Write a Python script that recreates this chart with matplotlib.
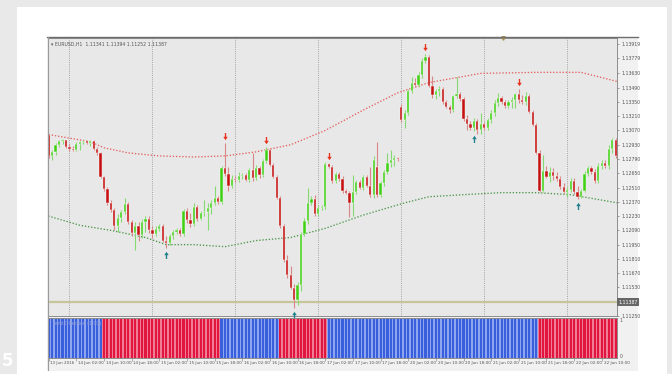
import numpy as np
import matplotlib
matplotlib.use("Agg")
import matplotlib.pyplot as plt
import matplotlib.transforms as mtransforms
from matplotlib.patches import Rectangle
from matplotlib.lines import Line2D
from matplotlib.path import Path

# EURUSD H1, one entry per bar (13 Jun 2016 18:00 -> 22 Jun 2016 12:00)
opens = [
    1.1303, 1.1282, 1.1286, 1.1293, 1.1297, 1.1298, 1.1291, 1.1289, 1.1288, 1.1294,
    1.1296, 1.1297, 1.1295, 1.1297, 1.1289, 1.1285, 1.1261, 1.1250, 1.1236, 1.1229,
    1.1213, 1.1221, 1.1227, 1.1235, 1.1217, 1.1206, 1.1213, 1.1204, 1.1217, 1.1220,
    1.1209, 1.1205, 1.1210, 1.1213, 1.1199, 1.1197, 1.1203, 1.1207, 1.1209, 1.1205,
    1.1228, 1.1219, 1.1215, 1.1232, 1.1220, 1.1226, 1.1227, 1.1231, 1.1236, 1.1241,
    1.1237, 1.1270, 1.1264, 1.1253, 1.1259, 1.1258, 1.1262, 1.1263, 1.1258, 1.1268,
    1.1260, 1.1270, 1.1263, 1.1277, 1.1288, 1.1273, 1.1261, 1.1241, 1.1213, 1.1180,
    1.1165, 1.1152, 1.1141, 1.1155, 1.1205, 1.1218, 1.1236, 1.1240, 1.1225, 1.1231,
    1.1232, 1.1274, 1.1271, 1.1257, 1.1264, 1.1259, 1.1248, 1.1246, 1.1236, 1.1247,
    1.1256, 1.1251, 1.1261, 1.1253, 1.1244, 1.1271, 1.1244, 1.1255, 1.1266, 1.1275,
    1.1278, 1.1280, 1.1330, 1.1317, 1.1324, 1.1346, 1.1354, 1.1352, 1.1361, 1.1375,
    1.1379, 1.1351, 1.1342, 1.1346, 1.1348, 1.1335, 1.1330, 1.1327, 1.1341, 1.1343,
    1.1338, 1.1318, 1.1313, 1.1309, 1.1316, 1.1307, 1.1313, 1.1309, 1.1317, 1.1324,
    1.1334, 1.1339, 1.1335, 1.1331, 1.1335, 1.1337, 1.1343, 1.1337, 1.1335, 1.1341,
    1.1325, 1.1312, 1.1285, 1.1248, 1.1267, 1.1261, 1.1266, 1.1262, 1.1259, 1.1252,
    1.1247, 1.1249, 1.1257, 1.1247, 1.1242, 1.1248, 1.1264, 1.1270, 1.1266, 1.1257,
    1.1272, 1.1275, 1.1272, 1.1289, 1.1298,
]
highs = [
    1.1304, 1.1288, 1.1295, 1.1298, 1.1299, 1.1298, 1.1294, 1.1292, 1.1296, 1.1297,
    1.1297, 1.1298, 1.1298, 1.1298, 1.1291, 1.1286, 1.1262, 1.1252, 1.1239, 1.1231,
    1.1225, 1.1229, 1.1241, 1.1237, 1.1219, 1.1217, 1.1217, 1.1220, 1.1223, 1.1223,
    1.1213, 1.1213, 1.1215, 1.1215, 1.1203, 1.1205, 1.1209, 1.1211, 1.1211, 1.1230,
    1.1231, 1.1226, 1.1236, 1.1234, 1.1228, 1.1239, 1.1236, 1.1239, 1.1253, 1.1243,
    1.1272, 1.1295, 1.1271, 1.1263, 1.1262, 1.1266, 1.1265, 1.1265, 1.1270, 1.1285,
    1.1273, 1.1272, 1.1279, 1.1291, 1.1290, 1.1275, 1.1263, 1.1243, 1.1215, 1.1185,
    1.1174, 1.1156, 1.1158, 1.1207, 1.1221, 1.1251, 1.1243, 1.1244, 1.1234, 1.1234,
    1.1276, 1.1275, 1.1273, 1.1266, 1.1266, 1.1262, 1.1250, 1.1248, 1.1263, 1.1258,
    1.1258, 1.1263, 1.1263, 1.1271, 1.1282, 1.1296, 1.1257, 1.1268, 1.1285, 1.1288,
    1.1283, 1.1281, 1.1333, 1.1327, 1.1348, 1.1359, 1.1358, 1.1364, 1.1378, 1.1382,
    1.1381, 1.1360, 1.1348, 1.1351, 1.1350, 1.1337, 1.1332, 1.1342, 1.1359, 1.1345,
    1.1340, 1.1322, 1.1316, 1.1319, 1.1318, 1.1324, 1.1315, 1.1319, 1.1327, 1.1337,
    1.1344, 1.1341, 1.1337, 1.1337, 1.1340, 1.1344, 1.1348, 1.1342, 1.1345, 1.1343,
    1.1327, 1.1314, 1.1288, 1.1283, 1.1272, 1.1271, 1.1270, 1.1266, 1.1262, 1.1255,
    1.1252, 1.1260, 1.1260, 1.1253, 1.1250, 1.1267, 1.1272, 1.1272, 1.1269, 1.1275,
    1.1278, 1.1278, 1.1293, 1.1300, 1.1300,
]
lows = [
    1.1280, 1.1278, 1.1283, 1.1291, 1.1294, 1.1290, 1.1287, 1.1287, 1.1287, 1.1288,
    1.1294, 1.1294, 1.1292, 1.1288, 1.1283, 1.1260, 1.1248, 1.1234, 1.1227, 1.1209,
    1.1207, 1.1217, 1.1225, 1.1215, 1.1203, 1.1190, 1.1199, 1.1202, 1.1207, 1.1206,
    1.1202, 1.1203, 1.1208, 1.1198, 1.1192, 1.1195, 1.1201, 1.1205, 1.1203, 1.1203,
    1.1216, 1.1212, 1.1213, 1.1218, 1.1219, 1.1223, 1.1209, 1.1225, 1.1234, 1.1235,
    1.1235, 1.1262, 1.1248, 1.1251, 1.1256, 1.1256, 1.1259, 1.1257, 1.1256, 1.1257,
    1.1258, 1.1260, 1.1261, 1.1275, 1.1272, 1.1260, 1.1240, 1.1211, 1.1178, 1.1162,
    1.1151, 1.1133, 1.1136, 1.1150, 1.1203, 1.1215, 1.1234, 1.1223, 1.1223, 1.1229,
    1.1230, 1.1270, 1.1255, 1.1255, 1.1257, 1.1246, 1.1245, 1.1222, 1.1223, 1.1245,
    1.1250, 1.1249, 1.1252, 1.1242, 1.1241, 1.1242, 1.1242, 1.1253, 1.1264, 1.1271,
    1.1272, 1.1277, 1.1315, 1.1309, 1.1322, 1.1344, 1.1350, 1.1350, 1.1358, 1.1373,
    1.1350, 1.1339, 1.1338, 1.1341, 1.1333, 1.1329, 1.1324, 1.1325, 1.1339, 1.1336,
    1.1316, 1.1307, 1.1307, 1.1306, 1.1304, 1.1304, 1.1307, 1.1307, 1.1314, 1.1321,
    1.1331, 1.1333, 1.1329, 1.1329, 1.1329, 1.1329, 1.1334, 1.1333, 1.1332, 1.1324,
    1.1311, 1.1284, 1.1247, 1.1247, 1.1260, 1.1256, 1.1258, 1.1257, 1.1250, 1.1246,
    1.1242, 1.1247, 1.1245, 1.1240, 1.1241, 1.1247, 1.1262, 1.1264, 1.1255, 1.1255,
    1.1269, 1.1270, 1.1269, 1.1285, 1.1280,
]
closes = [
    1.1282, 1.1286, 1.1293, 1.1297, 1.1298, 1.1291, 1.1289, 1.1288, 1.1294, 1.1296,
    1.1297, 1.1295, 1.1297, 1.1289, 1.1285, 1.1261, 1.1250, 1.1236, 1.1229, 1.1213,
    1.1221, 1.1227, 1.1235, 1.1217, 1.1206, 1.1213, 1.1204, 1.1217, 1.1220, 1.1209,
    1.1205, 1.1210, 1.1213, 1.1199, 1.1197, 1.1203, 1.1207, 1.1209, 1.1205, 1.1228,
    1.1219, 1.1215, 1.1232, 1.1220, 1.1226, 1.1227, 1.1231, 1.1236, 1.1241, 1.1237,
    1.1270, 1.1264, 1.1253, 1.1259, 1.1258, 1.1262, 1.1263, 1.1258, 1.1268, 1.1260,
    1.1270, 1.1263, 1.1277, 1.1288, 1.1273, 1.1261, 1.1241, 1.1213, 1.1180, 1.1165,
    1.1152, 1.1141, 1.1155, 1.1205, 1.1218, 1.1236, 1.1240, 1.1225, 1.1231, 1.1232,
    1.1274, 1.1271, 1.1257, 1.1264, 1.1259, 1.1248, 1.1246, 1.1236, 1.1247, 1.1256,
    1.1251, 1.1261, 1.1253, 1.1244, 1.1278, 1.1244, 1.1255, 1.1266, 1.1275, 1.1278,
    1.1280, 1.1279, 1.1317, 1.1324, 1.1346, 1.1354, 1.1352, 1.1361, 1.1375, 1.1379,
    1.1351, 1.1342, 1.1346, 1.1348, 1.1335, 1.1330, 1.1327, 1.1341, 1.1343, 1.1338,
    1.1318, 1.1313, 1.1309, 1.1316, 1.1307, 1.1313, 1.1309, 1.1317, 1.1324, 1.1334,
    1.1339, 1.1335, 1.1331, 1.1335, 1.1337, 1.1343, 1.1337, 1.1335, 1.1341, 1.1325,
    1.1312, 1.1285, 1.1248, 1.1267, 1.1261, 1.1266, 1.1262, 1.1259, 1.1252, 1.1247,
    1.1249, 1.1257, 1.1247, 1.1242, 1.1248, 1.1264, 1.1270, 1.1266, 1.1257, 1.1272,
    1.1275, 1.1272, 1.1289, 1.1298, 1.1282,
]

# envelope bands (dotted), read at a few bars
upper_idx = [0, 12, 16, 23, 32, 42, 51, 60, 70, 80, 91, 101, 110, 125, 141, 154, 164.5]
upper_vals = [1.1303, 1.1296, 1.1290, 1.1285, 1.1282, 1.1281, 1.1282, 1.1286, 1.1293,
              1.1307, 1.1327, 1.1344, 1.1354, 1.1363, 1.1364, 1.1364, 1.1355]
lower_idx = [-1, 9, 18, 28, 34, 42, 51, 60, 70, 80, 91, 103, 110, 120, 131, 141, 151, 164.5]
lower_vals = [1.1224, 1.1214, 1.1209, 1.1202, 1.1195, 1.1195, 1.1193, 1.1199, 1.1202,
              1.1211, 1.1224, 1.1236, 1.1242, 1.1244, 1.1246, 1.1246, 1.1244, 1.1236]

# signal arrows (bar index)
sell_idx = [51, 63, 81, 109, 136]
buy_idx = [34, 71, 123, 153]

# indicator histogram: run lengths of up(+1) / down(-1)
trend_runs = [16, 34, 17, 14, 61, 23]
trend_dirs = [1, -1, 1, -1, 1, -1]

bid_price = 1.11387
header = "\u25be EURUSD,H1  1.11341 1.11394 1.11252 1.11387"

price_ticks = [1.11250, 1.11530, 1.11670, 1.11810, 1.11950, 1.12090, 1.12230, 1.12370,
               1.12510, 1.12650, 1.12790, 1.12930, 1.13070, 1.13210, 1.13350, 1.13490,
               1.13630, 1.13779, 1.13919]
price_labels = ["1.11250", "1.11530", "1.11670", "1.11810", "1.11950", "1.12090", "1.12230",
                "1.12370", "1.12510", "1.12650", "1.12790", "1.12930", "1.13070", "1.13210",
                "1.13350", "1.13490", "1.13630", "1.13779", "1.13919"]

day_start_idx = [6, 30, 54, 78, 102, 126, 150]
time_idx = list(range(0, 161, 8))
time_labels = ["13 Jun 2016", "14 Jun 02:00", "14 Jun 10:00", "14 Jun 18:00",
               "15 Jun 02:00", "15 Jun 10:00", "15 Jun 18:00", "16 Jun 02:00",
               "16 Jun 10:00", "16 Jun 18:00", "17 Jun 02:00", "17 Jun 10:00",
               "17 Jun 18:00", "20 Jun 02:00", "20 Jun 10:00", "20 Jun 18:00",
               "21 Jun 02:00", "21 Jun 10:00", "21 Jun 18:00", "22 Jun 02:00",
               "22 Jun 10:00"]

W, H = 672.0, 374.0
FS = 3.3


def px_rect(x0, y0, x1, y1):
    return [x0 / W, 1 - y1 / H, (x1 - x0) / W, (y1 - y0) / H]


fig = plt.figure(figsize=(6.72, 3.74), dpi=100)
fig.patch.set_facecolor("#e9e9e9")

# page + terminal frame
r = px_rect(17, 7, 667, 374)
fig.add_artist(Rectangle((r[0], r[1]), r[2], r[3], transform=fig.transFigure,
                         facecolor="white", edgecolor="none", zorder=0))
r = px_rect(47, 37, 638, 371)
fig.add_artist(Rectangle((r[0], r[1]), r[2], r[3], transform=fig.transFigure,
                         facecolor="#f1f1f1", edgecolor="none", zorder=0))
fig.add_artist(Line2D([47 / W, 638 / W], [1 - 37 / H, 1 - 37 / H], transform=fig.transFigure,
                      color="#6e6e6e", lw=1.0))
fig.add_artist(Line2D([47.5 / W, 47.5 / W], [1 - 37 / H, 1 - 370 / H], transform=fig.transFigure,
                      color="#9a9a9a", lw=0.8))

ax = fig.add_axes(px_rect(48, 38, 617, 316))
ax2 = fig.add_axes(px_rect(48, 318, 617, 358))
for a in (ax, ax2):
    a.set_facecolor("#e8e8e8")
    a.set_xlim(-0.2, 164.4)
    for s in a.spines.values():
        s.set_color("#8c8c8c")
        s.set_linewidth(0.7)

ax.set_ylim(1.11250, 1.13977)

idx = np.arange(len(closes))
o, h, l, c = map(np.array, (opens, highs, lows, closes))
up = c >= o

for d in day_start_idx:
    ax.axvline(d, color="#9c9c9c", ls=(0, (1.2, 1.4)), lw=0.6, zorder=1)

ax.axhline(bid_price, color="#c8c59b", lw=1.6, zorder=1.5)

ax.plot(upper_idx, upper_vals, color="#e46060", ls=(0, (1.0, 1.4)), lw=0.95, zorder=1.8)
ax.plot(lower_idx, lower_vals, color="#4a964a", ls=(0, (1.0, 1.4)), lw=0.95, zorder=1.8)

# candles
ax.vlines(idx[up], l[up], h[up], color="#86d870", lw=0.8, zorder=2)
ax.vlines(idx[~up], l[~up], h[~up], color="#d98686", lw=0.8, zorder=2)
body_lo = np.minimum(o, c)
body_h = np.maximum(np.abs(c - o), 0.00009)
ax.bar(idx[up], body_h[up], bottom=body_lo[up], width=0.64, color="#3fd014",
       edgecolor="white", linewidth=0.3, zorder=3)
ax.bar(idx[~up], body_h[~up], bottom=body_lo[~up], width=0.64, color="#c41010",
       edgecolor="white", linewidth=0.3, zorder=3)

# arrows
down_arrow = Path([(-0.15, 1.0), (0.15, 1.0), (0.15, 0.15), (0.5, 0.15), (0.0, -0.6),
                   (-0.5, 0.15), (-0.15, 0.15), (-0.15, 1.0)],
                  [Path.MOVETO] + [Path.LINETO] * 6 + [Path.CLOSEPOLY])
up_arrow = Path([(x, -y) for x, y in down_arrow.vertices], down_arrow.codes)
ax.scatter(sell_idx, h[sell_idx] + 0.0006, marker=down_arrow, s=42, color="#e8321e",
           zorder=4, linewidths=0)
ax.scatter(buy_idx, l[buy_idx] - 0.0006, marker=up_arrow, s=42, color="#1f7f8c",
           zorder=4, linewidths=0, clip_on=False)

ax.text(0.006, 0.988, header, transform=ax.transAxes, fontsize=FS, color="#555555",
        va="top", ha="left")

ax.yaxis.tick_right()
ax.set_yticks(price_ticks)
ax.set_yticklabels(price_labels)
ax.tick_params(axis="y", labelsize=FS, colors="#555555", length=1.5, width=0.4, pad=1.5)
ax.set_xticks([])

trans = mtransforms.blended_transform_factory(ax.transAxes, ax.transData)
ax.text(1.002, bid_price, "1.11387", transform=trans, fontsize=FS, color="white",
        va="center", ha="left", zorder=6,
        bbox=dict(boxstyle="square,pad=0.35", fc="#676767", ec="none"))
ax.plot([131.5], [1.0], transform=mtransforms.blended_transform_factory(ax.transData, ax.transAxes),
        marker="v", ms=2.5, color="#a89050", clip_on=False, zorder=6)

# indicator panel
trend = np.repeat(trend_dirs, trend_runs)
main_col = np.where(trend > 0, "#3a5fdc", "#e0163e")
gap_col = np.where(trend > 0, "#8ea6ef", "#f07c96")
ax2.bar(idx, np.ones(len(idx)), width=1.0, color=gap_col, zorder=1)
ax2.bar(idx, np.ones(len(idx)), width=0.6, color=main_col, zorder=2)
ax2.set_ylim(0, 1.0)
ax2.text(0.006, 0.93, "Trend Direction (1.00)", transform=ax2.transAxes, fontsize=FS,
         color="#8f9fd6", va="top", ha="left", zorder=3)
ax2.yaxis.tick_right()
ax2.set_yticks([0.06, 0.94])
ax2.set_yticklabels(["0", "1"])
ax2.tick_params(axis="y", labelsize=FS, colors="#555555", length=0, pad=2)
ax2.set_xticks(time_idx)
ax2.set_xticklabels([])
ax2.tick_params(axis="x", length=2, width=0.4, colors="#777777")
tt = mtransforms.blended_transform_factory(ax2.transData, ax2.transAxes)
for i, t in zip(time_idx, time_labels):
    ax2.text(i + 0.5, -0.13, t, transform=tt, fontsize=3.0, color="#555555",
             ha="left", va="center", clip_on=False)

fig.text(2 / W, 1 - 361 / H, "5", color="white", fontsize=12, fontweight="bold", va="center")

fig.savefig("out.png", dpi=100, facecolor=fig.get_facecolor())
